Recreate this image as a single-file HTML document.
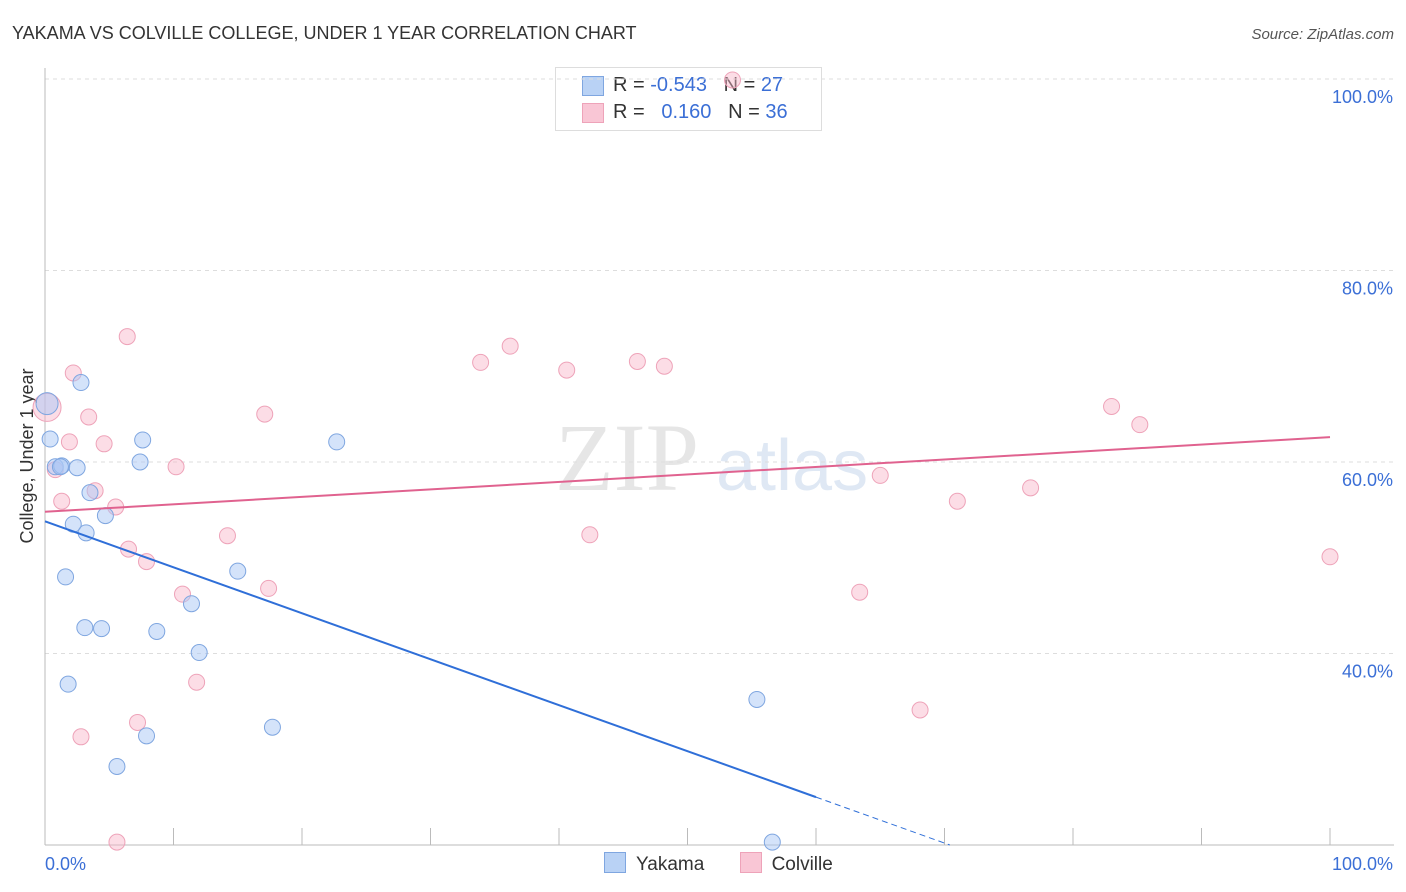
<!DOCTYPE html>
<html><head><meta charset="utf-8">
<style>
body{margin:0;background:#fff;font-family:"Liberation Sans",sans-serif;}
#wrap{position:relative;width:1406px;height:892px;overflow:hidden;}
#chart{position:absolute;left:0;top:0;z-index:2;}
</style></head>
<body>
<div id="wrap">
<div style="position:absolute;z-index:1;left:555px;top:67px;width:265px;height:62px;border:1px solid #ddd;background:#fff;font-size:20px;color:#333;">
 <div style="position:absolute;left:26px;top:8px;width:20px;height:18px;background:#b9d2f5;border:1px solid #7fa6e0"></div>
 <div style="position:absolute;left:57px;top:6px;">R = <span style="color:#3b6fd6">-0.543</span>&nbsp;&nbsp; N = <span style="color:#3b6fd6">27</span></div>
 <div style="position:absolute;left:26px;top:35px;width:20px;height:18px;background:#f9c6d5;border:1px solid #eea3b9"></div>
 <div style="position:absolute;left:57px;top:33px;">R = &nbsp;&nbsp;<span style="color:#3b6fd6">0.160</span>&nbsp;&nbsp; N = <span style="color:#3b6fd6">36</span></div>
</div>
<svg id="chart" width="1406" height="892" xmlns="http://www.w3.org/2000/svg">
<text x="12" y="39" font-size="18" fill="#333">YAKAMA VS COLVILLE COLLEGE, UNDER 1 YEAR CORRELATION CHART</text>
<text x="1394" y="39" font-size="15" fill="#555" font-style="italic" text-anchor="end">Source: ZipAtlas.com</text>
<text x="33" y="456" font-size="18" fill="#333" text-anchor="middle" transform="rotate(-90 33 456)">College, Under 1 year</text>
<text x="555" y="490" font-size="96" fill="#e6e6e6" font-family="Liberation Serif,serif">ZIP</text>
<text x="716" y="490" font-size="72" fill="#dfe8f4">atlas</text>
<g id="grid"></g><g id="marks"></g>
</svg>
</div>
<script>
const yTicks=[100,80,60,40];
const xTickLabels=["0.0%","100.0%"];
const yakamaX=[0.16,0.4,0.8,1.3,2.5,2.8,3.5,2.2,3.2,4.7,1.6,3.1,4.4,7.6,7.4,8.7,11.4,12.0,15.0,1.8,7.9,5.6,17.7,22.7,55.4,56.6,1.2];
const yakamaY=[66.1,62.4,59.5,59.6,59.4,68.3,56.8,53.5,52.6,54.4,48.0,42.7,42.6,62.3,60.0,42.3,45.2,40.1,48.6,36.8,31.4,28.2,32.3,62.1,35.2,20.3,59.5];
const colvilleX=[0.16,0.8,2.2,6.4,3.4,1.9,4.6,1.3,3.9,5.5,6.5,7.9,10.2,14.2,17.1,10.7,17.4,11.8,7.2,2.8,5.6,33.9,36.2,40.6,46.1,48.2,42.4,53.5,65.0,63.4,71.0,76.7,68.1,83.0,85.2,100];
const colvilleY=[65.7,59.2,69.3,73.1,64.7,62.1,61.9,55.9,57.0,55.3,50.9,49.6,59.5,52.3,65.0,46.2,46.8,37.0,32.8,31.3,20.3,70.4,72.1,69.6,70.5,70.0,52.4,99.9,58.6,46.4,55.9,57.3,34.1,65.8,63.9,50.1];
const yakamaTrend=[53.8,25.0];
const colvilleTrend=[54.8,62.6];
const NS="http://www.w3.org/2000/svg";
const X=v=>45+v*12.85, Y=v=>79+(100-v)*9.575;
function mk(t,a,p){const e=document.createElementNS(NS,t);for(const k in a)e.setAttribute(k,a[k]);p.appendChild(e);return e;}
const grid=document.getElementById('grid'),marks=document.getElementById('marks');
yTicks.forEach(v=>{
 const l=mk('line',{x1:45,x2:1394,y1:Y(v),y2:Y(v),stroke:'#ddd','stroke-dasharray':'4,4'},grid);
 
 
 const t=mk('text',{x:1393,y:Y(v)+24,'font-size':18,fill:'#3b6fd6','text-anchor':'end'},grid);
 t.textContent=v.toFixed(1)+'%';
 
 
});
const ax=mk('line',{x1:45,x2:1394,y1:845,y2:845,stroke:'#bbb'},grid);


const ay=mk('line',{x1:45,x2:45,y1:68,y2:845,stroke:'#bbb'},grid);


for(let i=0;i<=10;i++){const tk=mk('line',{x1:X(i*10),x2:X(i*10),y1:828,y2:845,stroke:'#bbb'},grid);
 
 }
[[0,'start'],[100,'end']].forEach((p,i)=>{const t=mk('text',{x:i?1393:45,y:870,'font-size':18,fill:'#3b6fd6','text-anchor':p[1]},grid);t.textContent=xTickLabels[i];
 
 });
colvilleX.forEach((x,i)=>{const c=mk('circle',{cx:X(x),cy:Y(colvilleY[i]),r:i==0?14:8,fill:'rgba(248,180,200,0.45)',stroke:'#eea3b9','stroke-width':1},marks);
 
 });
yakamaX.forEach((x,i)=>{const c=mk('circle',{cx:X(x),cy:Y(yakamaY[i]),r:i==0?11:8,fill:'rgba(170,200,245,0.5)',stroke:'#7fa6e0','stroke-width':1},marks);
 
 });
const slope=(yakamaTrend[1]-yakamaTrend[0])/60, xEnd=(20-yakamaTrend[0])/slope;
const tb=mk('line',{x1:X(0),y1:Y(yakamaTrend[0]),x2:X(60),y2:Y(yakamaTrend[1]),stroke:'#2f6fd8','stroke-width':2},marks);


const td=mk('line',{x1:X(60),y1:Y(yakamaTrend[1]),x2:X(xEnd),y2:Y(20),stroke:'#2f6fd8','stroke-width':1,'stroke-dasharray':'6,4'},marks);


const tp=mk('line',{x1:X(0),y1:Y(colvilleTrend[0]),x2:X(100),y2:Y(colvilleTrend[1]),stroke:'#e0628f','stroke-width':2},marks);


</script>
<div style="position:absolute;z-index:3;left:604px;top:852px;font-size:19px;color:#333;">
 <span style="display:inline-block;"><span style="display:inline-block;width:20px;height:19px;background:#b9d2f5;border:1px solid #7fa6e0;vertical-align:-3px;margin-right:10px"></span>Yakama</span>
 <span style="display:inline-block;margin-left:30px"><span style="display:inline-block;width:20px;height:19px;background:#f9c6d5;border:1px solid #eea3b9;vertical-align:-3px;margin-right:10px"></span>Colville</span>
</div>
</body></html>
